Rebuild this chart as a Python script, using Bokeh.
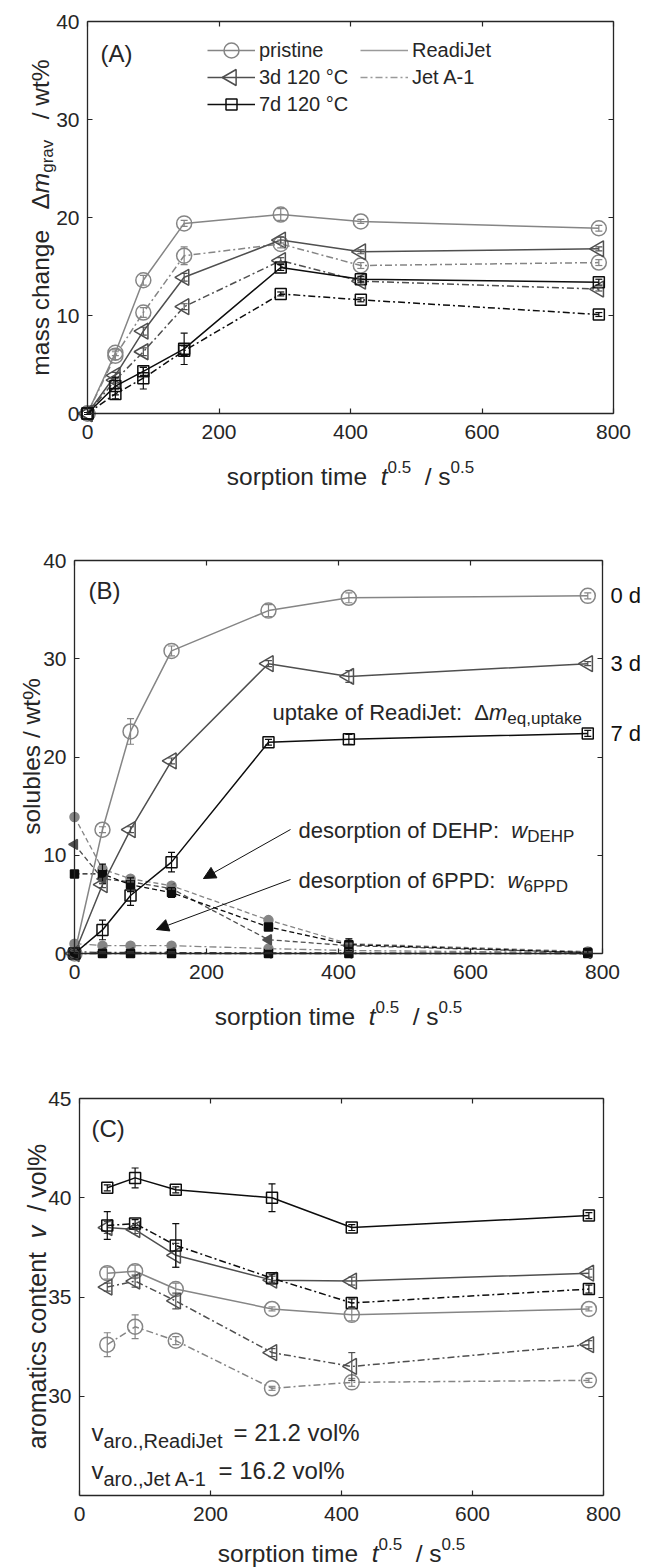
import math
from bokeh.plotting import figure
from bokeh.models import (Range1d, LinearAxis, FixedTicker, Label, Whisker, TeeHead,
                          ColumnDataSource, Legend, LegendItem, Arrow, NormalHead)
from bokeh.layouts import column
from bokeh.embed import file_html
from bokeh.resources import INLINE

# ------------------------------------------------------------------ data
# square root of sorption time / s^0.5  (0, 0.5 h, 2 h, 6 h, 1 d, 2 d, 7 d)
t_sqrt = [0, 42.4, 84.9, 147.0, 293.9, 415.7, 777.7]
t_sqrt_C = [42.4, 84.9, 147.0, 293.9, 415.7, 777.7]
x_ticks = [0, 200, 400, 600, 800]
yA_ticks = [0, 10, 20, 30, 40]
yB_ticks = [0, 10, 20, 30, 40]
yC_ticks = [30, 35, 40, 45]

conditions = ["pristine", "3d 120 °C", "7d 120 °C"]
fuels = ["ReadiJet", "Jet A-1"]
ageing_labels = ["0 d", "3 d", "7 d"]

# (A) gravimetric mass change / wt%
A_pr_RJ = [0, 6.2, 13.6, 19.4, 20.3, 19.6, 18.9]
A_pr_RJ_err = [0.1, 0.3, 0.5, 0.3, 0.6, 0.2, 0.3]
A_pr_JA = [0, 5.9, 10.3, 16.1, 17.3, 15.1, 15.4]
A_pr_JA_err = [0.1, 0.4, 0.5, 0.9, 0.4, 0.3, 0.3]
A_3d_RJ = [0, 3.9, 8.4, 13.9, 17.7, 16.5, 16.8]
A_3d_RJ_err = [0.1, 0.3, 0.4, 0.4, 0.3, 0.2, 0.2]
A_3d_JA = [0, 3.4, 6.3, 10.9, 15.6, 13.5, 12.7]
A_3d_JA_err = [0.1, 0.3, 0.4, 0.3, 0.3, 0.3, 0.2]
A_7d_RJ = [0, 2.8, 4.3, 6.6, 14.9, 13.7, 13.4]
A_7d_RJ_err = [0.1, 0.9, 0.4, 1.6, 0.3, 0.3, 0.3]
A_7d_JA = [0, 2.0, 3.6, 6.4, 12.2, 11.6, 10.1]
A_7d_JA_err = [0.1, 0.5, 1.1, 0.5, 0.2, 0.2, 0.2]

# (B) solubles / wt%: uptake of ReadiJet (open) and desorption of DEHP / 6PPD (filled)
B_up_0d = [0, 12.6, 22.6, 30.8, 34.9, 36.2, 36.4]
B_up_0d_err = [0.1, 0.3, 1.3, 0.5, 0.6, 0.5, 0.3]
B_up_3d = [0, 7.0, 12.6, 19.6, 29.5, 28.2, 29.5]
B_up_3d_err = [0.1, 0.3, 0.3, 0.3, 0.3, 0.6, 0.2]
B_up_7d = [0, 2.4, 5.9, 9.3, 21.5, 21.8, 22.4]
B_up_7d_err = [0.1, 1.0, 1.0, 1.0, 0.3, 0.5, 0.3]
B_dehp_0d = [13.9, 8.6, 7.6, 6.9, 3.4, 1.0, 0.2]
B_dehp_3d = [11.1, 7.6, 7.3, 6.6, 1.4, 0.8, 0.1]
B_dehp_7d = [8.1, 8.1, 7.0, 6.2, 2.7, 0.9, 0.1]
B_dehp_7d_err = [0.1, 1.0, 0.7, 0.5, 0.2, 0.6, 0.2]
B_6ppd_0d = [1.0, 0.8, 0.8, 0.8, 0.5, 0.3, 0.1]
B_6ppd_3d = [0.2, 0.1, 0.1, 0.1, 0.05, 0.05, 0.0]
B_6ppd_7d = [0, 0, 0, 0, 0, 0, 0]

# (C) aromatics content of the fuel / vol%
C_7d_RJ = [40.5, 41.0, 40.4, 40.0, 38.5, 39.1]
C_7d_RJ_err = [0.15, 0.5, 0.15, 0.7, 0.15, 0.15]
C_7d_JA = [38.6, 38.7, 37.6, 35.95, 34.7, 35.4]
C_7d_JA_err = [0.7, 0.2, 1.1, 0.2, 0.2, 0.2]
C_3d_RJ = [38.5, 38.4, 37.1, 35.85, 35.8, 36.2]
C_3d_RJ_err = [0.3, 0.2, 0.6, 0.2, 0.2, 0.2]
C_3d_JA = [35.5, 35.8, 34.8, 32.2, 31.5, 32.6]
C_3d_JA_err = [0.2, 0.3, 0.4, 0.2, 0.7, 0.2]
C_pr_RJ = [36.2, 36.3, 35.4, 34.4, 34.1, 34.4]
C_pr_RJ_err = [0.3, 0.3, 0.3, 0.1, 0.3, 0.1]
C_pr_JA = [32.6, 33.5, 32.8, 30.4, 30.7, 30.8]
C_pr_JA_err = [0.6, 0.6, 0.2, 0.1, 0.2, 0.1]

# ------------------------------------------------------------------ styles
FONT = "Liberation Sans"
INK = "#262626"
COL = {"pr": "#858585", "3d": "#4f4f4f", "7d": "#0d0d0d"}
MARK = {"pr": "circle", "3d": "triangle", "7d": "square"}
MSIZE = {"pr": 15, "3d": 16, "7d": 11}
MSIZE_F = {"pr": 9, "3d": 10, "7d": 8}
ANG = {"pr": 0.0, "3d": math.pi / 2, "7d": 0.0}
SOLID, DASHDOT, DASHED = "solid", "7 3 2 3", "5 3"

AW = {' ': 278, '%': 889, '(': 333, ')': 333, ',': 278, '-': 333, '.': 278, '/': 278,
      ':': 278, '=': 584, '°': 400, 'Δ': 668}
for c in "0123456789":
    AW[c] = 556
AW.update(dict(zip("abcdefghijklmnopqrstuvwxyz",
                   [556, 556, 500, 556, 556, 278, 556, 556, 222, 222, 500, 222, 833,
                    556, 556, 556, 556, 333, 500, 278, 556, 500, 722, 500, 500, 500])))
AW.update(dict(zip("ABCDEFGHIJKLMNOPQRSTUVWXYZ",
                   [667, 667, 722, 722, 667, 611, 778, 722, 278, 500, 667, 556, 833,
                    722, 778, 667, 778, 722, 667, 611, 722, 667, 944, 667, 667, 611])))


def tw(s, size):
    return sum(AW.get(c, 556) for c in s) * size / 1000.0


# ------------------------------------------------------------------ page geometry (px)
PAGE_W = 649
# data boxes in page pixels and the canvas rows that hold them
FA = dict(l=87, r=613, t=21, b=413, x0=0, x1=800, y0=0, y1=40, ct=0, cb=530)
FB = dict(l=74, r=602, t=560, b=953, x0=0, x1=800, y0=0, y1=40, ct=530, cb=1040)
FC = dict(l=79, r=603, t=1098, b=1495, x0=0, x1=800, y0=25, y1=45, ct=1040, cb=1567)


def conv_for(F):
    kx = (F["x1"] - F["x0"]) / (F["r"] - F["l"])
    ky = (F["y1"] - F["y0"]) / (F["b"] - F["t"])

    def conv(px, py):
        return F["x0"] + (px - F["l"]) * kx, F["y0"] + (F["b"] - py) * ky
    return conv


def put(target, px, py, text, size, style="normal", angle=0.0, color=INK):
    fig, conv = target
    x, y = conv(px, py)
    fig.add_layout(Label(x=x, y=y, text=text, text_font=FONT, text_font_size=f"{size}px",
                         text_font_style=style, text_color=color, angle=angle,
                         text_align="left", text_baseline="alphabetic"))


def run(target, px, py, pieces, vertical=False, center=True):
    total = sum(tw(t, s) for t, s, st, d in pieces)
    if vertical:
        pos = py + total / 2 if center else py
    else:
        pos = px - total / 2 if center else px
    for t, s, st, d in pieces:
        lead = tw(t[:len(t) - len(t.lstrip())], s)
        txt = t.strip()
        if vertical:
            put(target, px + d, pos - lead, txt, s, st, angle=math.pi / 2)
            pos -= tw(t, s)
        else:
            put(target, pos + lead, py + d, txt, s, st)
            pos += tw(t, s)


def make_fig(F, yticks):
    conv = conv_for(F)
    xs, ys = conv(0, F["cb"])
    xe, ye = conv(PAGE_W, F["ct"])
    p = figure(width=PAGE_W, height=F["cb"] - F["ct"], x_range=Range1d(xs, xe),
               y_range=Range1d(ys, ye), title=None, min_border=0, min_border_left=0,
               min_border_right=0, min_border_top=0, min_border_bottom=0,
               output_backend="svg", toolbar_location=None)
    p.grid.visible = False
    p.outline_line_color = None
    p.background_fill_color = "white"
    p.border_fill_color = "white"
    xa, ya = p.xaxis[0], p.yaxis[0]
    xa.fixed_location = F["y0"]
    ya.fixed_location = F["x0"]
    xa.bounds = (F["x0"], F["x1"])
    ya.bounds = (F["y0"], F["y1"])
    for ax, tk in ((xa, x_ticks), (ya, yticks)):
        ax.ticker = FixedTicker(ticks=tk)
        ax.major_tick_in = 5
        ax.major_tick_out = 0
        ax.minor_tick_line_color = None
        ax.axis_line_color = INK
        ax.axis_line_width = 1.3
        ax.major_tick_line_color = INK
        ax.major_tick_line_width = 1.2
        ax.major_label_text_font = FONT
        ax.major_label_text_font_size = "21px"
        ax.major_label_text_color = INK
    xa.major_label_standoff = 11
    ya.major_label_standoff = 8
    top = LinearAxis(ticker=FixedTicker(ticks=x_ticks), fixed_location=F["y1"],
                     bounds=(F["x0"], F["x1"]))
    right = LinearAxis(ticker=FixedTicker(ticks=yticks), fixed_location=F["x1"],
                       bounds=(F["y0"], F["y1"]))
    for ax in (top, right):
        ax.major_tick_in = 5
        ax.major_tick_out = 0
        ax.minor_tick_line_color = None
        ax.axis_line_color = INK
        ax.axis_line_width = 1.3
        ax.major_tick_line_color = INK
        ax.major_tick_line_width = 1.2
        ax.major_label_text_color = None
        ax.major_label_text_font_size = "1px"
        ax.major_label_standoff = 0
    p.add_layout(top, "above")
    p.add_layout(right, "right")
    return p, (p, conv)


def series(p, x, y, err, key, dash, filled=False, lw=1.5):
    c = COL[key]
    src = ColumnDataSource(dict(x=x, y=y, lo=[a - e for a, e in zip(y, err)],
                                hi=[a + e for a, e in zip(y, err)]))
    lr = p.line("x", "y", source=src, line_color=c, line_width=lw, line_dash=dash)
    p.add_layout(Whisker(source=src, base="x", lower="lo", upper="hi", line_color=c,
                         line_width=1.2, level="glyph",
                         upper_head=TeeHead(size=7, line_color=c, line_width=1.2),
                         lower_head=TeeHead(size=7, line_color=c, line_width=1.2)))
    sr = p.scatter("x", "y", source=src, marker=MARK[key],
                   size=(MSIZE_F if filled else MSIZE)[key], angle=ANG[key],
                   line_color=c, line_width=1.5, fill_color=(c if filled else None))
    return lr, sr


SUP = -9.5
XLAB = [("sorption time", 24.5, "normal", 0), ("  t", 24.5, "italic", 0),
        ("0.5", 17, "normal", SUP), ("  / s", 24.5, "normal", 0), ("0.5", 17, "normal", SUP)]

# ------------------------------------------------------------------ (A)
pA, tA = make_fig(FA, yA_ticks)
rA = {}
for key, rj, rje, ja, jae in (("pr", A_pr_RJ, A_pr_RJ_err, A_pr_JA, A_pr_JA_err),
                              ("3d", A_3d_RJ, A_3d_RJ_err, A_3d_JA, A_3d_JA_err),
                              ("7d", A_7d_RJ, A_7d_RJ_err, A_7d_JA, A_7d_JA_err)):
    series(pA, t_sqrt, ja, jae, key, DASHDOT)
    rA[key] = series(pA, t_sqrt, rj, rje, key, SOLID)

# legend proxies (a single point draws no line in the plot)
d_rj = pA.line(x=t_sqrt[:1], y=A_pr_RJ[:1], line_color="#9a9a9a", line_width=1.5,
               line_dash=SOLID)
d_ja = pA.line(x=t_sqrt[:1], y=A_pr_JA[:1], line_color="#9a9a9a", line_width=1.5,
               line_dash=DASHDOT)

# legend layout: one single-item legend per row (rows 27 px apart)
ITEM_H = 36
ROW_Y = [50, 77, 104]
LEG1_X, LEG2_X, GLYPH_W = 207, 360, 48
leg_common = dict(label_text_font=FONT, label_text_font_size="20px", label_text_color=INK,
                  glyph_height=ITEM_H, label_height=ITEM_H, label_standoff=4, spacing=0,
                  padding=0, margin=0, border_line_color=None, background_fill_alpha=0,
                  glyph_width=GLYPH_W)
for i, k in enumerate(("pr", "3d", "7d")):
    pA.add_layout(Legend(items=[LegendItem(label=conditions[i], renderers=[rA[k][0]])],
                         location=(LEG1_X, FA["cb"] - (ROW_Y[i] + ITEM_H / 2)),
                         **leg_common))
    # legend key marker (drawn over the legend line so the triangle keeps its direction)
    mx, my = tA[1](LEG1_X + GLYPH_W / 2, ROW_Y[i])
    pA.scatter(x=[mx], y=[my], marker=MARK[k], size=MSIZE[k], angle=ANG[k],
               line_color=COL[k], line_width=1.5, fill_color=None)
for i, r in enumerate((d_rj, d_ja)):
    pA.add_layout(Legend(items=[LegendItem(label=fuels[i], renderers=[r])],
                         location=(LEG2_X, FA["cb"] - (ROW_Y[i] + ITEM_H / 2)),
                         **leg_common))

put(tA, 100, 53, "(A)", 24)
run(tA, 350, 476, XLAB)
run(tA, 40, 217, [("mass change", 24.5, "normal", 0), ("   Δ", 24.5, "normal", 0),
                  ("m", 24.5, "italic", 0), ("grav", 17, "normal", 7),
                  ("   / wt%", 24.5, "normal", 0)], vertical=True)

# ------------------------------------------------------------------ (B)
pB, tB = make_fig(FB, yB_ticks)
small = [0.05] * len(t_sqrt)
series(pB, t_sqrt, B_6ppd_0d, small, "pr", DASHDOT, filled=True, lw=1.3)
series(pB, t_sqrt, B_6ppd_3d, small, "3d", DASHDOT, filled=True, lw=1.3)
series(pB, t_sqrt, B_6ppd_7d, small, "7d", DASHDOT, filled=True, lw=1.3)
series(pB, t_sqrt, B_dehp_0d, small, "pr", DASHED, filled=True, lw=1.3)
series(pB, t_sqrt, B_dehp_3d, small, "3d", DASHED, filled=True, lw=1.3)
series(pB, t_sqrt, B_dehp_7d, B_dehp_7d_err, "7d", DASHED, filled=True, lw=1.3)
series(pB, t_sqrt, B_up_0d, B_up_0d_err, "pr", SOLID)
series(pB, t_sqrt, B_up_3d, B_up_3d_err, "3d", SOLID)
series(pB, t_sqrt, B_up_7d, B_up_7d_err, "7d", SOLID)

for lab, vals in zip(ageing_labels, (B_up_0d, B_up_3d, B_up_7d)):
    pB.add_layout(Label(x=FB["x1"], y=vals[-1], x_offset=8, text=lab, text_font=FONT,
                        text_font_size="22px", text_color="#111111",
                        text_align="left", text_baseline="middle"))

put(tB, 88, 590, "(B)", 24)
run(tB, 338, 1016, XLAB)
run(tB, 31, 756, [("solubles / wt%", 24.5, "normal", 0)], vertical=True)
run(tB, 272, 712, [("uptake of ReadiJet:  ", 22, "normal", 0), ("Δ", 22, "normal", 0),
                   ("m", 22, "italic", 0), ("eq,uptake", 17, "normal", 6)], center=False)
run(tB, 298, 830, [("desorption of DEHP:  ", 22, "normal", 0), ("w", 22, "italic", 0),
                   ("DEHP", 17, "normal", 6)], center=False)
run(tB, 298, 880, [("desorption of 6PPD:  ", 22, "normal", 0), ("w", 22, "italic", 0),
                   ("6PPD", 17, "normal", 6)], center=False)
cB = tB[1]
for (sx, sy), (ex, ey) in (((290, 829), (203, 878)), ((290, 879), (156, 929))):
    xs, ys = cB(sx, sy)
    xe, ye = cB(ex, ey)
    pB.segment(x0=[xs], y0=[ys], x1=[xe], y1=[ye], line_color="#111111", line_width=1)
    pB.add_layout(Arrow(x_start=xs, y_start=ys, x_end=xe, y_end=ye, line_alpha=0,
                        end=NormalHead(size=12, fill_color="#111111", line_color="#111111",
                                       line_width=1)))

# ------------------------------------------------------------------ (C)
pC, tC = make_fig(FC, yC_ticks)
for key, rj, rje, ja, jae in (("pr", C_pr_RJ, C_pr_RJ_err, C_pr_JA, C_pr_JA_err),
                              ("3d", C_3d_RJ, C_3d_RJ_err, C_3d_JA, C_3d_JA_err),
                              ("7d", C_7d_RJ, C_7d_RJ_err, C_7d_JA, C_7d_JA_err)):
    series(pC, t_sqrt_C, ja, jae, key, DASHDOT)
    series(pC, t_sqrt_C, rj, rje, key, SOLID)

put(tC, 91, 1128, "(C)", 24)
run(tC, 91, 1432, [("v", 24, "normal", 0), ("aro.,ReadiJet", 20, "normal", 8)], center=False)
put(tC, 233, 1432, "= 21.2 vol%", 24)
run(tC, 91, 1470, [("v", 24, "normal", 0), ("aro.,Jet A-1", 20, "normal", 8)], center=False)
put(tC, 218, 1470, "= 16.2 vol%", 24)
run(tC, 341, 1553, XLAB)
run(tC, 36, 1296, [("aromatics content", 25, "normal", 0), ("  v", 25, "italic", 0),
                   ("  / vol%", 25, "normal", 0)], vertical=True)

layout = column(pA, pB, pC, spacing=0)
open("out.html", "w").write(file_html(layout, INLINE))
